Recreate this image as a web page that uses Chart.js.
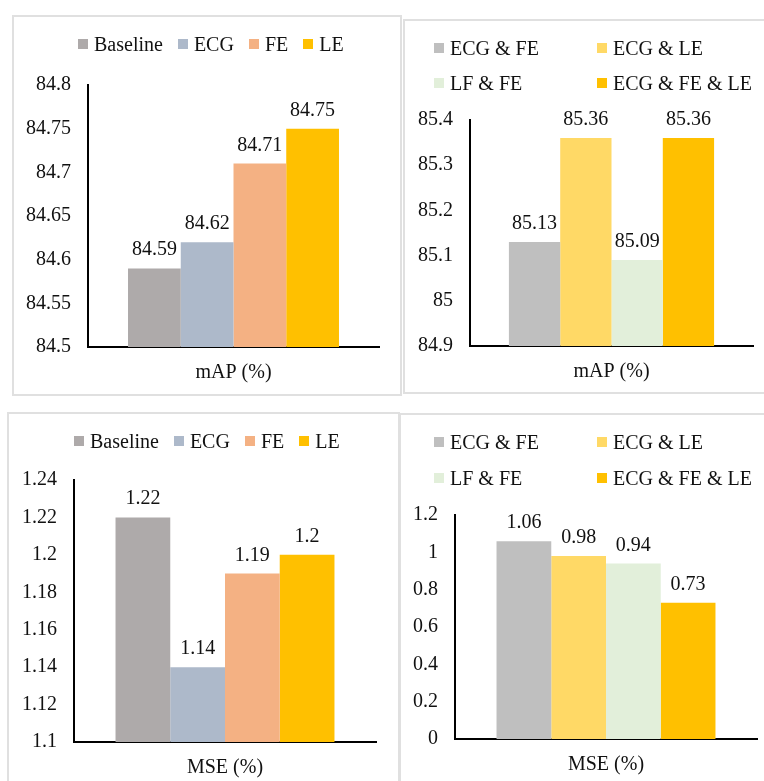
<!DOCTYPE html>
<html>
<head>
<meta charset="utf-8">
<title>mAP and MSE comparison</title>
<script src="https://cdn.jsdelivr.net/npm/chart.js@4.4.1/dist/chart.umd.min.js"></script>
<style>
  html, body { margin: 0; padding: 0; background: #fff; }
  body { width: 764px; height: 781px; overflow: hidden; position: relative; }
  .panel { position: absolute; box-sizing: border-box; border: 2px solid #e0e0e0; }
  .panel canvas { position: absolute; left: -2px; top: -2px; }
  .legend { position: absolute; font-family: "Liberation Serif", "Times New Roman", serif;
            font-size: 20px; color: #111; }
  .legend.row { display: flex; gap: 15px; }
  .legend.grid { display: grid; grid-template-columns: 163px 163px; }
  .legend .item { display: flex; align-items: center; height: 20px; line-height: 20px; white-space: nowrap; }
  .legend .sw { width: 10px; height: 10px; margin-right: 6px; flex: none; }
</style>
</head>
<body>

<div class="panel" id="p1" style="left:12px; top:15px; width:390px; height:381px;">
  <canvas id="c1" width="390" height="381"></canvas>
  <div class="legend row" id="l1" style="left:64px; top:17px;"></div>
</div>
<div class="panel" id="p2" style="left:403px; top:19px; width:400px; height:375px;">
  <canvas id="c2" width="400" height="375"></canvas>
  <div class="legend grid" id="l2" style="left:29px; top:17px; row-gap:15px;"></div>
</div>
<div class="panel" id="p3" style="left:7px; top:412px; width:393px; height:408px;">
  <canvas id="c3" width="393" height="408"></canvas>
  <div class="legend row" id="l3" style="left:65px; top:17px;"></div>
</div>
<div class="panel" id="p4" style="left:399px; top:413px; width:401px; height:407px;">
  <canvas id="c4" width="401" height="407"></canvas>
  <div class="legend grid" id="l4" style="left:33px; top:17px; row-gap:16px;"></div>
</div>

<script>
// Single-feature variants and their scores
const singleLabels = ['Baseline', 'ECG', 'FE', 'LE'];
const mapSingleValues = [84.59, 84.62, 84.71, 84.75];
const mseSingleValues = [1.22, 1.14, 1.19, 1.2];

// Feature combinations and their scores
const comboLabels = ['ECG & FE', 'ECG & LE', 'LF & FE', 'ECG & FE & LE'];
const mapComboValues = [85.13, 85.36, 85.09, 85.36];
const mseComboValues = [1.06, 0.98, 0.94, 0.73];

// Y-axis ticks for each chart
const mapSingleTicks = [84.5, 84.55, 84.6, 84.65, 84.7, 84.75, 84.8];
const mapComboTicks = [84.9, 85, 85.1, 85.2, 85.3, 85.4];
const mseSingleTicks = [1.1, 1.12, 1.14, 1.16, 1.18, 1.2, 1.22, 1.24];
const mseComboTicks = [0, 0.2, 0.4, 0.6, 0.8, 1, 1.2];

// Bar fills
const singleColors = ['#AEAAAA', '#ADB9CA', '#F4B183', '#FFC000'];
const comboColors = ['#BFBFBF', '#FFD966', '#E2EFDA', '#FFC000'];

const TEXT = '#111';
const FONT_FAMILY = '"Liberation Serif", "Times New Roman", serif';
Chart.defaults.font.family = FONT_FAMILY;
Chart.defaults.font.size = 20;
Chart.defaults.color = TEXT;

const fmt = v => String(Number(Number(v).toFixed(2)));

// Prints each bar's value just above it
const valueLabels = {
  id: 'valueLabels',
  afterDatasetsDraw(chart) {
    const ctx = chart.ctx;
    ctx.save();
    ctx.font = '20px ' + FONT_FAMILY;
    ctx.fillStyle = TEXT;
    ctx.textAlign = 'center';
    ctx.textBaseline = 'alphabetic';
    chart.data.datasets.forEach((ds, i) => {
      const bar = chart.getDatasetMeta(i).data[0];
      ctx.fillText(fmt(ds.data[0]), bar.x, bar.y - 13);
    });
    ctx.restore();
  }
};

function buildLegend(el, labels, colors) {
  labels.forEach((label, i) => {
    const item = document.createElement('div');
    item.className = 'item';
    const sw = document.createElement('span');
    sw.className = 'sw';
    sw.style.background = colors[i];
    const tx = document.createElement('span');
    tx.textContent = label;
    item.appendChild(sw);
    item.appendChild(tx);
    el.appendChild(item);
  });
}

function barChart(canvasId, legendId, spec) {
  buildLegend(document.getElementById(legendId), spec.labels, spec.colors);
  return new Chart(document.getElementById(canvasId), {
    type: 'bar',
    data: {
      labels: [spec.category],
      datasets: spec.labels.map((label, i) => ({
        label: label,
        data: [spec.values[i]],
        backgroundColor: spec.colors[i],
        borderWidth: 0,
        barPercentage: 1,
        categoryPercentage: 0.725
      }))
    },
    options: {
      responsive: false,
      animation: false,
      devicePixelRatio: 1,
      layout: { padding: spec.padding },
      plugins: { legend: { display: false }, tooltip: { enabled: false } },
      scales: {
        x: {
          z: 1,
          grid: { display: false, drawTicks: false },
          border: { color: '#000', width: 2 },
          ticks: { padding: 14, color: TEXT },
          afterFit(s) { s.height = 40; }
        },
        y: {
          z: 1,
          min: spec.ticks[0],
          max: spec.ticks[spec.ticks.length - 1],
          grid: { display: false, drawTicks: false },
          border: { color: '#000', width: 2 },
          ticks: { padding: 17, color: TEXT, callback: v => fmt(v) },
          afterBuildTicks(s) { s.ticks = spec.ticks.map(v => ({ value: v })); },
          afterFit(s) { s.width = spec.yWidth; }
        }
      }
    },
    plugins: [valueLabels]
  });
}

barChart('c1', 'l1', {
  labels: singleLabels, values: mapSingleValues, colors: singleColors,
  ticks: mapSingleTicks, category: 'mAP (%)',
  yWidth: 76, padding: { top: 70, left: 0, right: 23, bottom: 9 }
});
barChart('c2', 'l2', {
  labels: comboLabels, values: mapComboValues, colors: comboColors,
  ticks: mapComboTicks, category: 'mAP (%)',
  yWidth: 67, padding: { top: 101, left: 0, right: 50, bottom: 8 }
});
barChart('c3', 'l3', {
  labels: singleLabels, values: mseSingleValues, colors: singleColors,
  ticks: mseSingleTicks, category: 'MSE (%)',
  yWidth: 67, padding: { top: 68, left: 0, right: 24, bottom: 38 }
});
barChart('c4', 'l4', {
  labels: comboLabels, values: mseComboValues, colors: comboColors,
  ticks: mseComboTicks, category: 'MSE (%)',
  yWidth: 56, padding: { top: 102, left: 0, right: 43, bottom: 41 }
});
</script>
</body>
</html>
